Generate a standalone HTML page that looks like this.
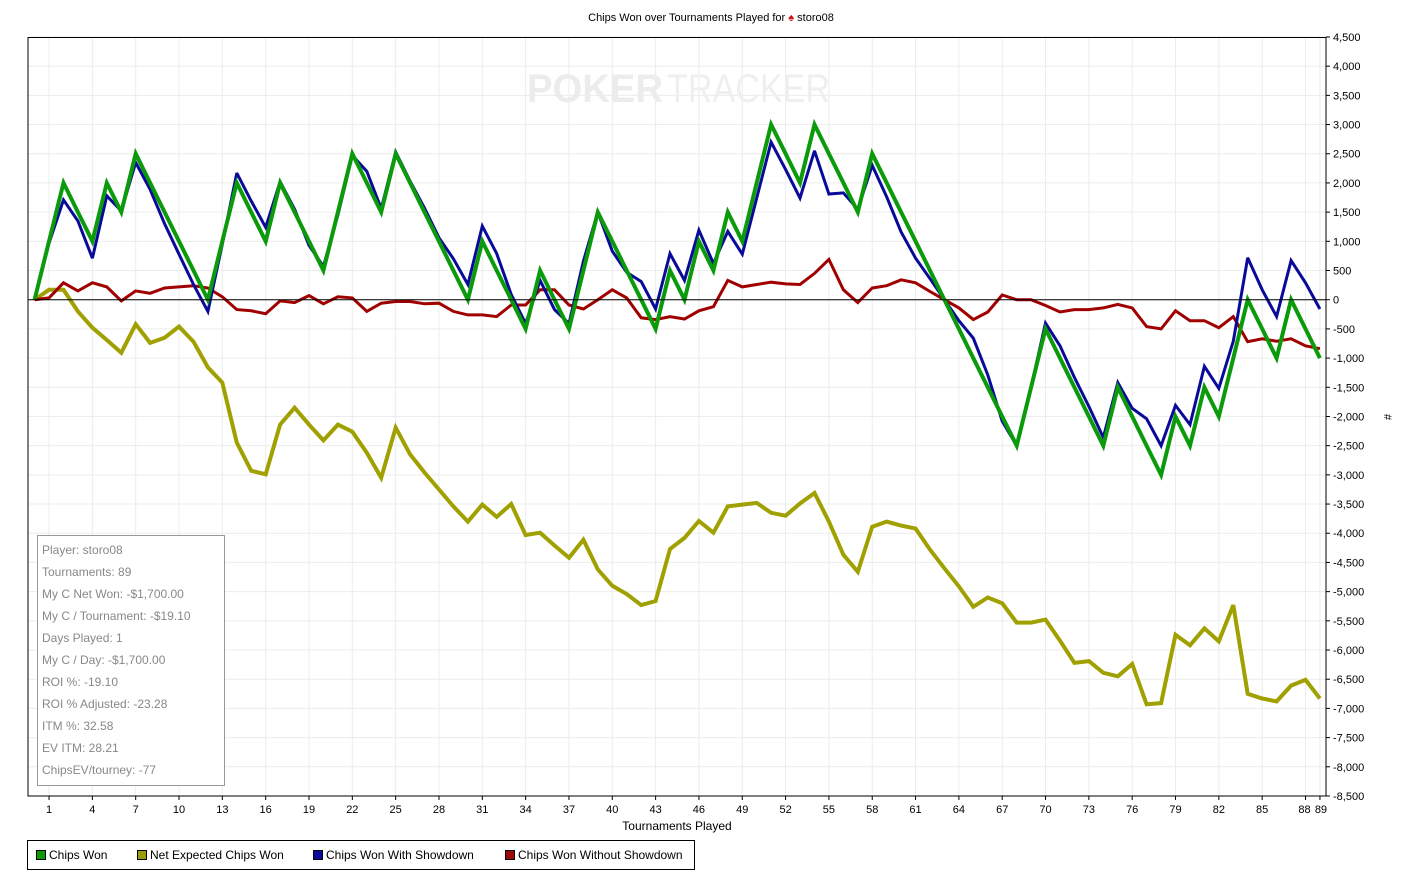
<!DOCTYPE html>
<html><head><meta charset="utf-8"><style>
body{margin:0;background:#fff;}
svg{display:block;font-family:"Liberation Sans",sans-serif;}
</style></head><body>
<svg id="s" width="1417" height="891" xmlns="http://www.w3.org/2000/svg">
<rect width="1417" height="891" fill="#fff"/>
<g id="grid"></g>
<text x="527" y="102" font-size="40" font-weight="bold" fill="#ececec" textLength="136" lengthAdjust="spacingAndGlyphs">POKER</text>
<text x="667" y="102" font-size="40" fill="#efefef" textLength="163" lengthAdjust="spacingAndGlyphs">TRACKER</text>
<g id="series"></g>
<line x1="28" y1="299.7" x2="1326" y2="299.7" stroke="#000" stroke-width="1"/>
<rect x="28" y="37.5" width="1298" height="758.5" fill="none" stroke="#000" stroke-width="1"/>
<g id="axes" font-size="11" fill="#000"></g>
<text x="711" y="21" font-size="11" text-anchor="middle">Chips Won over Tournaments Played for <tspan fill="#d01010">♠</tspan> storo08</text>
<text x="677" y="830" font-size="12" text-anchor="middle">Tournaments Played</text>
<text x="1384" y="417" font-size="11" transform="rotate(90 1384 417)" text-anchor="middle">#</text>
<rect x="37.5" y="535.5" width="187" height="250" fill="#fff" stroke="#999"/>
<g font-size="12" fill="#888">
<text x="42" y="554">Player: storo08</text>
<text x="42" y="576">Tournaments: 89</text>
<text x="42" y="598">My C Net Won: -$1,700.00</text>
<text x="42" y="620">My C / Tournament: -$19.10</text>
<text x="42" y="642">Days Played: 1</text>
<text x="42" y="664">My C / Day: -$1,700.00</text>
<text x="42" y="686">ROI %: -19.10</text>
<text x="42" y="708">ROI % Adjusted: -23.28</text>
<text x="42" y="730">ITM %: 32.58</text>
<text x="42" y="752">EV ITM: 28.21</text>
<text x="42" y="774">ChipsEV/tourney: -77</text>
</g>
<rect x="27.5" y="840.5" width="667" height="29" fill="#fff" stroke="#000"/>
<g font-size="12">
<rect x="36.5" y="850.5" width="9" height="9" fill="#0a9a0a" stroke="#000"/><text x="49" y="859">Chips Won</text>
<rect x="137.5" y="850.5" width="9" height="9" fill="#9a9a0a" stroke="#000"/><text x="150" y="859">Net Expected Chips Won</text>
<rect x="313.5" y="850.5" width="9" height="9" fill="#0a0a9a" stroke="#000"/><text x="326" y="859">Chips Won With Showdown</text>
<rect x="505.5" y="850.5" width="9" height="9" fill="#9a0a0a" stroke="#000"/><text x="518" y="859">Chips Won Without Showdown</text>
</g>
</svg>
<script>
var NS="http://www.w3.org/2000/svg";
function X(i){return 34.6+14.442*i;}
function Y(v){return 299.7-v*0.058385;}
function el(p,t,a,txt){var e=document.createElementNS(NS,t);for(var k in a)e.setAttribute(k,a[k]);if(txt!=null)e.textContent=txt;p.appendChild(e);return e;}
var g=document.getElementById('grid'),ax=document.getElementById('axes'),se=document.getElementById('series');
for(var v=4500;v>=-8500;v-=500){var y=Y(v);
 el(g,'line',{x1:28,x2:1326,y1:y,y2:y,stroke:'#ececec'});
 el(ax,'line',{x1:1326,x2:1330,y1:y,y2:y,stroke:'#000'});
 el(ax,'text',{x:1333,y:y+4},v.toLocaleString('en-US'));}
var ticks=[];for(var t=1;t<=88;t+=3)ticks.push(t);ticks.push(89);
ticks.forEach(function(t){var x=X(t);
 el(g,'line',{x1:x,x2:x,y1:38,y2:796,stroke:'#ececec'});
 el(ax,'line',{x1:x,x2:x,y1:796,y2:800,stroke:'#000'});
 el(ax,'text',{x:t==88?x-1:(t==89?x+1:x),y:813,'text-anchor':'middle'},String(t));});
var green=[0,1000,2000,1500,1000,2000,1500,2500,2000,1500,1000,500,0,1000,2000,1500,1000,2000,1500,1000,500,1500,2500,2000,1500,2500,2000,1500,1000,500,0,1000,500,0,-500,500,0,-500,500,1500,1000,500,0,-500,500,0,1000,500,1500,1000,2000,3000,2500,2000,3000,2500,2000,1500,2500,2000,1500,1000,500,0,-500,-1000,-1500,-2000,-2500,-1500,-500,-1000,-1500,-2000,-2500,-1500,-2000,-2500,-3000,-2000,-2500,-1500,-2000,-1000,0,-500,-1000,0,-500,-1000];
var red=[0,30,290,150,290,220,-20,150,110,200,220,240,200,50,-170,-190,-240,-20,-50,70,-70,50,30,-200,-60,-30,-30,-70,-60,-200,-260,-260,-290,-90,-90,170,170,-90,-160,0,170,30,-310,-340,-290,-330,-190,-120,330,220,260,300,270,260,450,690,170,-50,200,240,340,290,140,0,-140,-340,-210,80,0,0,-100,-210,-170,-170,-140,-80,-140,-460,-500,-190,-360,-360,-480,-290,-720,-670,-710,-670,-790,-840];
var yel=[0,170,170,-200,-480,-690,-910,-420,-740,-650,-460,-720,-1160,-1420,-2450,-2930,-2990,-2140,-1850,-2140,-2410,-2140,-2260,-2620,-3050,-2190,-2650,-2960,-3250,-3540,-3800,-3510,-3720,-3500,-4030,-3990,-4210,-4420,-4110,-4620,-4900,-5040,-5230,-5160,-4270,-4080,-3790,-3990,-3540,-3510,-3480,-3650,-3700,-3490,-3310,-3800,-4370,-4660,-3890,-3800,-3870,-3920,-4280,-4600,-4910,-5260,-5100,-5200,-5530,-5530,-5480,-5840,-6220,-6190,-6390,-6450,-6240,-6930,-6910,-5740,-5920,-5630,-5850,-5230,-6750,-6830,-6880,-6610,-6510,-6830];
var blue=green.map(function(v,i){return v-red[i];});
function pl(d,c,w){el(se,'polyline',{points:d.map(function(v,i){return X(i).toFixed(1)+','+Y(v).toFixed(1);}).join(' '),fill:'none',stroke:c,'stroke-width':w,'stroke-linejoin':'miter','stroke-miterlimit':3});}
pl(yel,'#a0a000',4);pl(red,'#a00000',3);pl(blue,'#0a0a9a',3);pl(green,'#0a9a0a',4);
</script>
</body></html>
